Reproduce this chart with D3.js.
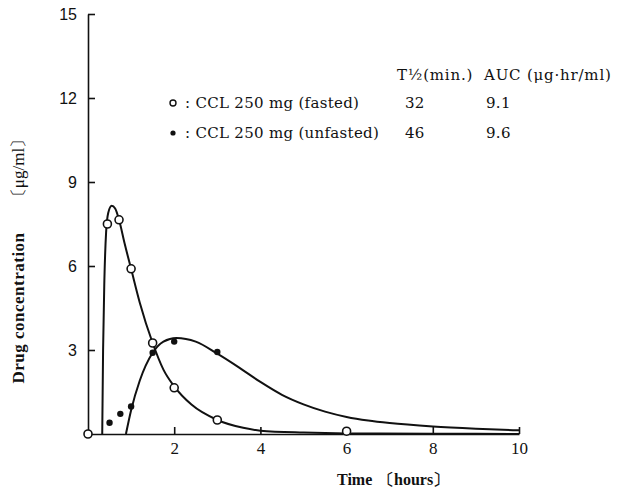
<!DOCTYPE html>
<html>
<head>
<meta charset="utf-8">
<script src="https://cdn.jsdelivr.net/npm/d3@7"></script>
<style>
  body { margin: 0; background: #fff; }
  svg { display: block; }
  .tick line, .domain { stroke: #111; stroke-width: 1.6; }
</style>
</head>
<body>
<div id="chart"></div>
<script>
// chart values
var fastedTimes = [0, 0.45, 0.72, 1.0, 1.5, 2.0, 3.0, 6.0];
var fastedConc = [0, 7.5, 7.65, 5.9, 3.25, 1.65, 0.5, 0.1];
var unfastedTimes = [0.5, 0.75, 1.0, 1.5, 2.0, 3.0];
var unfastedConc = [0.4, 0.72, 0.98, 2.9, 3.3, 2.93];

// fitted curves
var fastedCurveT = [0.33, 0.35, 0.38, 0.42, 0.47, 0.55, 0.63, 0.72, 0.85, 1.0, 1.2, 1.5, 1.75, 2.0, 2.4, 3.0, 3.6, 4.0, 5.0, 6.0, 8.0, 10.0];
var fastedCurveC = [0, 3, 5.5, 7.2, 7.9, 8.15, 8.05, 7.65, 6.8, 5.9, 4.7, 3.25, 2.3, 1.7, 1.05, 0.5, 0.22, 0.12, 0.05, 0.02, 0.01, 0];
var unfastedCurveT = [0.88, 1.0, 1.2, 1.5, 1.75, 2.05, 2.5, 3.0, 3.5, 4.0, 4.5, 5.0, 5.5, 6.0, 6.5, 7.0, 8.0, 9.0, 10.0];
var unfastedCurveC = [0, 0.85, 1.9, 2.9, 3.3, 3.43, 3.3, 2.87, 2.38, 1.86, 1.4, 1.06, 0.8, 0.61, 0.48, 0.39, 0.27, 0.19, 0.13];

var xTicks = [2, 4, 6, 8, 10];
var yTicks = [3, 6, 9, 12, 15];

var legendLabels = [": CCL 250 mg (fasted)", ": CCL 250 mg (unfasted)"];
var halfLives = ["32", "46"];
var aucs = ["9.1", "9.6"];

var svgWidth = 617;
var svgHeight = 491;

var svg = d3.select("#chart")
  .append("svg")
  .attr("width", svgWidth)
  .attr("height", svgHeight);

var xScale = d3.scaleLinear().domain([0, 10]).range([88, 519]);
var yScale = d3.scaleLinear().domain([0, 15]).range([434, 14]);

var serif = "'DejaVu Serif', 'Liberation Serif', serif";

// axes - ticks point inward
var xAxis = d3.axisBottom(xScale)
  .tickValues(xTicks)
  .tickSizeInner(-7)
  .tickSizeOuter(0)
  .tickPadding(8)
  .tickFormat(d3.format("d"));

var yAxis = d3.axisLeft(yScale)
  .tickValues(yTicks)
  .tickSizeInner(-7)
  .tickSizeOuter(0)
  .tickPadding(11)
  .tickFormat(d3.format("d"));

var gx = svg.append("g")
  .attr("transform", "translate(0," + yScale(0) + ")")
  .call(xAxis);
gx.selectAll("text")
  .attr("font-family", "'Liberation Serif', serif")
  .attr("font-size", "17px")
  .attr("fill", "#111");

var gy = svg.append("g")
  .attr("transform", "translate(" + xScale(0) + ",0)")
  .call(yAxis);
gy.selectAll("text")
  .attr("font-family", "'Liberation Sans', Arial, sans-serif")
  .attr("font-size", "16px")
  .attr("fill", "#111");

// curves
var line = d3.line()
  .x(function(d) { return xScale(d[0]); })
  .y(function(d) { return yScale(d[1]); })
  .curve(d3.curveMonotoneX);

var fastedCurve = fastedCurveT.map(function(t, i) { return [t, fastedCurveC[i]]; });
var unfastedCurve = unfastedCurveT.map(function(t, i) { return [t, unfastedCurveC[i]]; });

svg.append("path")
  .datum(fastedCurve)
  .attr("d", line)
  .attr("fill", "none")
  .attr("stroke", "#111")
  .attr("stroke-width", 2);

svg.append("path")
  .datum(unfastedCurve)
  .attr("d", line)
  .attr("fill", "none")
  .attr("stroke", "#111")
  .attr("stroke-width", 2);

// points
svg.selectAll(".unfasted")
  .data(unfastedTimes)
  .enter()
  .append("circle")
  .attr("class", "unfasted")
  .attr("cx", function(d) { return xScale(d); })
  .attr("cy", function(d, i) { return yScale(unfastedConc[i]); })
  .attr("r", 3.2)
  .attr("fill", "#111");

svg.selectAll(".fasted")
  .data(fastedTimes)
  .enter()
  .append("circle")
  .attr("class", "fasted")
  .attr("cx", function(d) { return xScale(d); })
  .attr("cy", function(d, i) { return yScale(fastedConc[i]); })
  .attr("r", 4)
  .attr("fill", "#fff")
  .attr("stroke", "#111")
  .attr("stroke-width", 1.6);

// axis titles
svg.append("text")
  .attr("transform", "translate(24,308) rotate(-90)")
  .attr("text-anchor", "middle")
  .attr("font-family", "'Liberation Serif', serif")
  .attr("font-size", "17px")
  .attr("font-weight", "bold")
  .attr("letter-spacing", "0.5px")
  .attr("fill", "#111")
  .text("Drug concentration");

svg.append("text")
  .attr("transform", "translate(24,168) rotate(-90)")
  .attr("text-anchor", "middle")
  .attr("font-family", "'Liberation Serif', serif")
  .attr("font-size", "17px")
  .attr("fill", "#111")
  .text("〔μg/ml〕");

svg.append("text")
  .attr("x", 337)
  .attr("y", 485)
  .attr("font-family", "'Liberation Serif', serif")
  .attr("font-size", "16px")
  .attr("font-weight", "bold")
  .attr("fill", "#111")
  .text("Time");

svg.append("text")
  .attr("x", 378)
  .attr("y", 485)
  .attr("font-family", "'Liberation Serif', serif")
  .attr("font-size", "16px")
  .attr("font-weight", "bold")
  .attr("fill", "#111")
  .text("〔hours〕");

// legend table
var header = svg.append("g")
  .attr("font-family", serif)
  .attr("font-size", "15px")
  .attr("letter-spacing", "0.8px")
  .attr("fill", "#111");

header.append("text")
  .attr("x", 397)
  .attr("y", 80)
  .text("T½(min.)");

header.append("text")
  .attr("x", 484)
  .attr("y", 80)
  .text("AUC (μg·hr/ml)");

var rowY = [108, 138];

legendLabels.forEach(function(label, i) {
  var g = svg.append("g")
    .attr("font-family", serif)
    .attr("font-size", "15px")
    .attr("letter-spacing", "0.3px")
    .attr("fill", "#111");
  if (i === 0) {
    g.append("circle").attr("cx", 173).attr("cy", rowY[i] - 5).attr("r", 3)
      .attr("fill", "#fff").attr("stroke", "#111").attr("stroke-width", 1.4);
  } else {
    g.append("circle").attr("cx", 173).attr("cy", rowY[i] - 5).attr("r", 2.6)
      .attr("fill", "#111");
  }
  g.append("text").attr("x", 185).attr("y", rowY[i]).text(label);
  g.append("text").attr("x", 405).attr("y", rowY[i]).text(halfLives[i]);
  g.append("text").attr("x", 486).attr("y", rowY[i]).text(aucs[i]);
});
</script>
</body>
</html>
